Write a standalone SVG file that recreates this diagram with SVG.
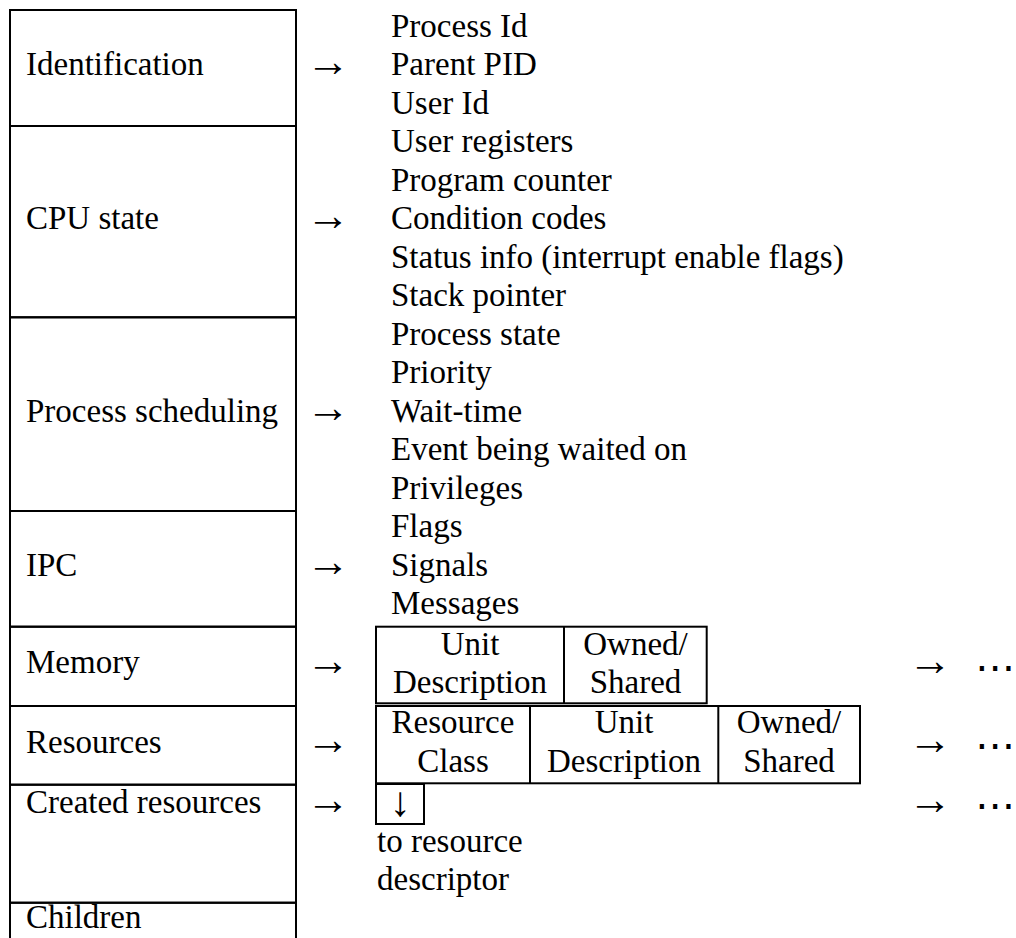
<svg xmlns="http://www.w3.org/2000/svg" width="1016" height="938" viewBox="0 0 1016 938" font-family="'Liberation Serif', 'DejaVu Serif', serif">
<style>
text { font-family: "Liberation Serif", "DejaVu Serif", serif; font-size: 33px; fill: #000; }
.c { text-anchor: middle; }
.box { fill: none; stroke: #000; stroke-width: 2; }
.arr { font-size: 44px; }
.dn { font-size: 42px; text-anchor: middle; }
.dots { font-family: "DejaVu Sans", sans-serif; font-size: 40px; text-anchor: end; }
</style>
<rect width="1016" height="938" fill="#fff"/>
<g id="row-identification">
<rect class="box" x="10" y="10" width="286" height="116"/>
<text x="26" y="75.4">Identification</text>
</g>
<g id="row-cpu-state">
<rect class="box" x="10" y="126" width="286" height="191.3"/>
<text x="26" y="229.3">CPU state</text>
</g>
<g id="row-process-scheduling">
<rect class="box" x="10" y="317.3" width="286" height="193.7"/>
<text x="26" y="421.6">Process scheduling</text>
</g>
<g id="row-ipc">
<rect class="box" x="10" y="511" width="286" height="115.7"/>
<text x="26" y="575.5">IPC</text>
</g>
<g id="row-memory">
<rect class="box" x="10" y="626.7" width="286" height="79.3"/>
<text x="26" y="673">Memory</text>
</g>
<g id="row-resources">
<rect class="box" x="10" y="706" width="286" height="78.7"/>
<text x="26" y="752.7">Resources</text>
</g>
<g id="row-created-resources">
<rect class="box" x="10" y="784.7" width="286" height="118"/>
<text x="26" y="812.7">Created resources</text>
</g>
<g id="row-children">
<path class="box" d="M10,945 V902.7 H296 V945"/>
<text x="26" y="928">Children</text>
</g>
<g id="list-identification">
<text x="391" y="36.9">Process Id</text>
<text x="391" y="75.4">Parent PID</text>
<text x="391" y="113.8">User Id</text>
</g>
<g id="list-cpu-state">
<text x="391" y="152.3">User registers</text>
<text x="391" y="190.8">Program counter</text>
<text x="391" y="229.3">Condition codes</text>
<text x="391" y="267.7">Status info (interrupt enable flags)</text>
<text x="391" y="306.2">Stack pointer</text>
</g>
<g id="list-process-scheduling">
<text x="391" y="344.7">Process state</text>
<text x="391" y="383.1">Priority</text>
<text x="391" y="421.6">Wait-time</text>
<text x="391" y="460.1">Event being waited on</text>
<text x="391" y="498.5">Privileges</text>
</g>
<g id="list-ipc">
<text x="391" y="537">Flags</text>
<text x="391" y="575.5">Signals</text>
<text x="391" y="614">Messages</text>
</g>
<g id="memory-record">
<rect class="box" x="376" y="626.7" width="330.7" height="76.6"/>
<line class="box" x1="564" y1="626.7" x2="564" y2="703.3"/>
<text class="c" x="470" y="655">Unit</text>
<text class="c" x="470" y="692.7">Description</text>
<text class="c" x="635.5" y="655">Owned/</text>
<text class="c" x="635.5" y="692.7">Shared</text>
</g>
<g id="resource-record">
<rect class="box" x="376" y="706" width="484" height="77.3"/>
<line class="box" x1="530" y1="706" x2="530" y2="783.3"/>
<line class="box" x1="718.3" y1="706" x2="718.3" y2="783.3"/>
<text class="c" x="453" y="732.7">Resource</text>
<text class="c" x="453" y="771.7">Class</text>
<text class="c" x="624" y="732.7">Unit</text>
<text class="c" x="624" y="771.7">Description</text>
<text class="c" x="789" y="732.7">Owned/</text>
<text class="c" x="789" y="771.7">Shared</text>
</g>
<g id="created-pointer">
<rect class="box" x="376" y="784" width="48" height="40"/>
<text class="dn" x="400" y="816">↓</text>
<text x="377" y="851.7">to resource</text>
<text x="377" y="890">descriptor</text>
</g>
<g id="continuations">
<text class="dots" x="1015" y="681">⋯</text>
<text class="dots" x="1015" y="759">⋯</text>
<text class="dots" x="1015" y="819">⋯</text>
</g>
<g id="connectors">
<text class="arr" x="306" y="75.5">→</text>
<text class="arr" x="306" y="229.5">→</text>
<text class="arr" x="306" y="421.5">→</text>
<text class="arr" x="306" y="575.5">→</text>
<text class="arr" x="306" y="675">→</text>
<text class="arr" x="306" y="753.5">→</text>
<text class="arr" x="306" y="813.5">→</text>
<text class="arr" x="908" y="675">→</text>
<text class="arr" x="908" y="753.5">→</text>
<text class="arr" x="908" y="813.5">→</text>
</g>
</svg>
